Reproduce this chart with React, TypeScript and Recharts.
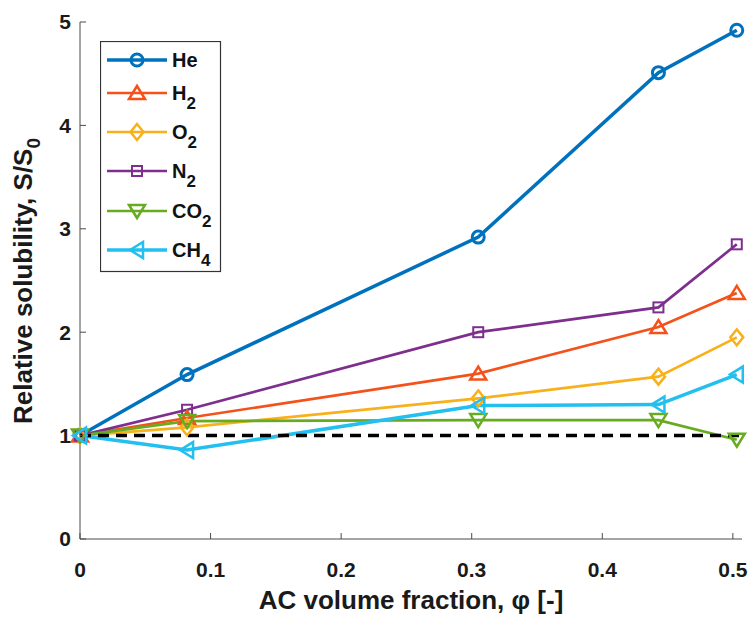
import { LineChart, Line, XAxis, YAxis, ReferenceLine, Legend } from 'recharts';

// AC volume fraction
const phi = [0, 0.082, 0.305, 0.443, 0.503];

// relative solubility S/S0 for each gas
const he = [1, 1.59, 2.92, 4.51, 4.92];
const h2 = [1, 1.17, 1.6, 2.05, 2.38];
const o2 = [1, 1.08, 1.36, 1.57, 1.95];
const n2 = [1, 1.25, 2.0, 2.24, 2.85];
const co2 = [1, 1.14, 1.15, 1.15, 0.96];
const ch4 = [1, 0.86, 1.29, 1.3, 1.59];

const xTicks = [0, 0.1, 0.2, 0.3, 0.4, 0.5];
const yTicks = [0, 1, 2, 3, 4, 5];

const rows = phi.map((p, i) => ({
  phi: p,
  he: he[i],
  h2: h2[i],
  o2: o2[i],
  n2: n2[i],
  co2: co2[i],
  ch4: ch4[i],
}));

type Shape = 'circle' | 'up' | 'diamond' | 'square' | 'down' | 'left';

const gases: { key: string; name: string; sub: string; color: string; shape: Shape; width: number }[] = [
  { key: 'he', name: 'He', sub: '', color: '#0072BD', shape: 'circle', width: 3.5 },
  { key: 'h2', name: 'H', sub: '2', color: '#F4521B', shape: 'up', width: 2.7 },
  { key: 'o2', name: 'O', sub: '2', color: '#F8B11A', shape: 'diamond', width: 2.7 },
  { key: 'n2', name: 'N', sub: '2', color: '#7E2F8E', shape: 'square', width: 2.7 },
  { key: 'co2', name: 'CO', sub: '2', color: '#68AB20', shape: 'down', width: 2.7 },
  { key: 'ch4', name: 'CH', sub: '4', color: '#22BFEF', shape: 'left', width: 3.5 },
];

const font = '"Liberation Sans", Arial, Helvetica, sans-serif';
const axisColor = '#4a4a4a';

const Marker = ({ shape, cx, cy, color }: { shape: Shape; cx: number; cy: number; color: string }) => {
  const s = { fill: 'none', stroke: color, strokeWidth: 2.5, strokeLinejoin: 'miter' as const };
  switch (shape) {
    case 'circle':
      return <circle cx={cx} cy={cy} r={6} {...s} strokeWidth={3} />;
    case 'up':
      return <polygon points={`${cx},${cy - 7} ${cx + 8},${cy + 6} ${cx - 8},${cy + 6}`} {...s} />;
    case 'down':
      return <polygon points={`${cx},${cy + 7} ${cx + 8},${cy - 6} ${cx - 8},${cy - 6}`} {...s} />;
    case 'diamond':
      return <polygon points={`${cx},${cy - 8} ${cx + 6.5},${cy} ${cx},${cy + 8} ${cx - 6.5},${cy}`} {...s} />;
    case 'square':
      return <rect x={cx - 5} y={cy - 5} width={10} height={10} {...s} strokeWidth={2} />;
    case 'left':
      return <polygon points={`${cx - 7},${cy} ${cx + 6},${cy - 8} ${cx + 6},${cy + 8}`} {...s} />;
  }
};

const legendRows = [19, 52, 91, 130, 170, 209];

const GasLegend = () => (
  <svg width={122} height={232} style={{ display: 'block' }}>
    <rect x={0.5} y={0.5} width={120} height={230} fill="#fff" stroke="#333" strokeWidth={1.2} />
    {gases.map((g, i) => (
      <g key={g.key}>
        <line x1={7} x2={67} y1={legendRows[i]} y2={legendRows[i]} stroke={g.color} strokeWidth={g.width} />
        <Marker shape={g.shape} cx={37} cy={legendRows[i]} color={g.color} />
        <text x={72} y={legendRows[i] + 7} fontFamily={font} fontWeight="bold" fontSize={20} fill="#111">
          {g.name}
          {g.sub && (
            <tspan dy={9} fontSize={17}>
              {g.sub}
            </tspan>
          )}
        </text>
      </g>
    ))}
  </svg>
);

const XTitle = ({ viewBox }: any) => (
  <text x={viewBox.x + viewBox.width / 2} y={609} textAnchor="middle" fontFamily={font} fontWeight="bold" fontSize={26} fill="#1a1a1a">
    AC volume fraction, φ [-]
  </text>
);

const YTitle = () => (
  <text transform="translate(32, 281) rotate(-90)" textAnchor="middle" fontFamily={font} fontWeight="bold" fontSize={26} fill="#1a1a1a">
    Relative solubility, S/S
    <tspan dy={8} fontSize={19}>0</tspan>
  </text>
);

const tickStyle = { fill: '#1a1a1a', fontSize: 21, fontWeight: 'bold', fontFamily: font };

export default function App() {
  return (
    <div style={{ position: 'absolute', left: 0, top: 0, background: '#fff' }}>
      <LineChart width={749} height={617} data={rows} margin={{ top: 22, right: 7, bottom: 0, left: 0 }}>
        <XAxis
          dataKey="phi"
          type="number"
          domain={[0, 0.507]}
          ticks={xTicks}
          tickFormatter={(v: number) => String(v)}
          height={78}
          tickSize={-6}
          tickMargin={29}
          stroke={axisColor}
          tick={tickStyle}
          label={<XTitle />}
        />
        <XAxis xAxisId="top" orientation="top" dataKey="phi" type="number" domain={[0, 0.507]} ticks={xTicks} height={0} tick={false} tickSize={-6} stroke={axisColor} />
        <YAxis
          domain={[0, 5]}
          ticks={yTicks}
          width={80}
          tickSize={-6}
          tickMargin={15}
          stroke={axisColor}
          tick={tickStyle}
          label={<YTitle />}
        />
        <YAxis yAxisId="right" orientation="right" domain={[0, 5]} ticks={yTicks} width={0} tick={false} tickSize={-6} stroke={axisColor} />
        {gases.map((g) => (
          <Line
            key={g.key}
            dataKey={g.key}
            name={g.name + g.sub}
            stroke={g.color}
            strokeWidth={g.width}
            isAnimationActive={false}
            dot={(p: any) => <Marker key={`${g.key}-${p.index}`} shape={g.shape} cx={p.cx} cy={p.cy} color={g.color} />}
            activeDot={false}
          />
        ))}
        <ReferenceLine y={1} stroke="#000" strokeWidth={3.5} strokeDasharray="11 7" />
        <Legend
          layout="vertical"
          align="center"
          verticalAlign="middle"
          content={() => <GasLegend />}
          wrapperStyle={{ left: 100, top: 41, width: 122, height: 232 }}
        />
      </LineChart>
    </div>
  );
}
